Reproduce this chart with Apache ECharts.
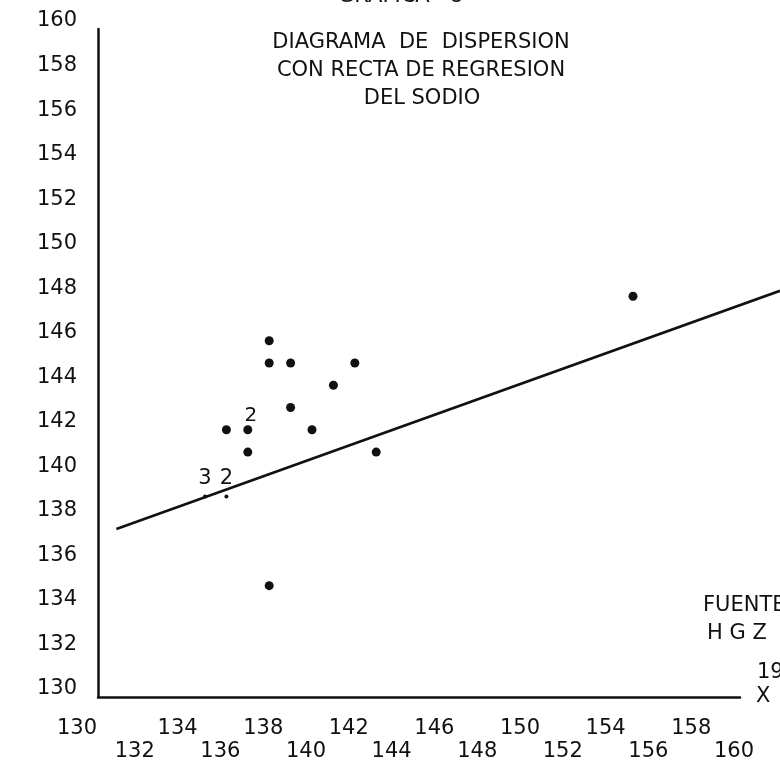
<!DOCTYPE html>
<html>
<head>
<meta charset="utf-8">
<script src="https://cdn.jsdelivr.net/npm/echarts@6/dist/echarts.min.js"></script>
<style>
  html, body { margin: 0; padding: 0; background: #fff; }
  #chart { width: 780px; height: 762px; }
</style>
</head>
<body>
<div id="chart"></div>
<script>
// ---- data ----
// plotted dots (value 2 = two coincident observations)
const dotX = [138, 138, 139, 142, 141, 139, 136, 137, 140, 137, 143, 138, 155];
const dotY = [146, 145, 145, 145, 144, 143, 142, 142, 142, 141, 141, 135, 148];
const dotN = [1, 1, 1, 1, 1, 1, 1, 2, 1, 1, 1, 1, 1];
// repeated points drawn as small marks on the regression line
const markX = [135, 136];
const markY = [139, 139];
const markN = [3, 2];
// regression line end points (runs past the end of the x axis to the page edge)
const regX = [130.86, 161.87];
const regY = [137.61, 148.28];
// axis ticks
const axisMin = 130;
const axisMax = 160;
const tickStep = 2;
// texts
const titleLines = ['DIAGRAMA  DE  DISPERSION', 'CON RECTA DE REGRESION', 'DEL SODIO'];
const topText = 'GRAFICA   8';
const sourceLines = ['FUENTE:', 'H G Z  -', '1983'];
const xName = 'X';

const FONT = '"DejaVu Sans", sans-serif';
const INK = '#111111';

const chart = echarts.init(document.getElementById('chart'), null, { renderer: 'canvas' });

const dotData = dotX.map((x, i) => [x, dotY[i], dotN[i]]);
const markData = markX.map((x, i) => [x, markY[i], markN[i]]);
const regData = regX.map((x, i) => [x, regY[i]]);

// main grid geometry; a second, wider grid with the same scale carries the regression line
const G = { left: 98, right: 40, top: 29, bottom: 63 };
const W = 780;
const pxPerUnit = (W - G.left - G.right) / (axisMax - axisMin);
const wideMax = axisMin + (W - G.left) / pxPerUnit;

const isUpperRow = v => (v - axisMin) % 4 === 0;

const labelBase = {
  interval: 0,
  hideOverlap: false,
  showMinLabel: true,
  showMaxLabel: true,
  fontFamily: FONT, fontSize: 21, color: INK,
  padding: [0, 12, 0, 0]
};

const option = {
  backgroundColor: '#ffffff',
  animation: false,
  grid: [
    { left: G.left, right: G.right, top: G.top, bottom: G.bottom },
    { left: G.left, right: 0, top: G.top, bottom: G.bottom }
  ],
  xAxis: [
    {
      // upper row of tick labels: 130, 134, ... 158
      type: 'value', gridIndex: 0, position: 'bottom',
      min: axisMin, max: axisMax, interval: tickStep,
      name: xName,
      nameLocation: 'end',
      nameGap: 16,
      nameTextStyle: { fontFamily: FONT, fontSize: 21, color: INK, verticalAlign: 'middle', align: 'left' },
      axisLine: { show: true, lineStyle: { color: INK, width: 2.5 } },
      axisTick: { show: false },
      splitLine: { show: false },
      axisLabel: Object.assign({}, labelBase, {
        margin: 21,
        formatter: v => (isUpperRow(v) ? (v === axisMin ? '{f|' + v + '}' : String(v)) : ''),
        rich: { f: { fontFamily: FONT, fontSize: 21, color: INK, padding: [0, 30, 0, 0] } }
      })
    },
    {
      // lower row of tick labels: 132, 136, ... 160
      type: 'value', gridIndex: 0, position: 'bottom', offset: 0,
      min: axisMin, max: axisMax, interval: tickStep,
      axisLine: { show: false },
      axisTick: { show: false },
      splitLine: { show: false },
      axisLabel: Object.assign({}, labelBase, {
        margin: 44,
        formatter: v => (isUpperRow(v) ? '' : String(v))
      })
    },
    {
      type: 'value', gridIndex: 1,
      min: axisMin, max: wideMax,
      show: false
    }
  ],
  yAxis: [
    {
      type: 'value', gridIndex: 0,
      min: axisMin, max: axisMax, interval: tickStep,
      axisLine: { show: true, lineStyle: { color: INK, width: 2.5 } },
      axisTick: { show: false },
      splitLine: { show: false },
      axisLabel: {
        interval: 0,
        hideOverlap: false,
        showMinLabel: true,
        showMaxLabel: true,
        margin: 21,
        formatter: v => '{n|' + v + '}\n{s|}',
        rich: {
          n: { fontFamily: FONT, fontSize: 21, color: INK, lineHeight: 24 },
          s: { lineHeight: 16, fontSize: 1 }
        }
      }
    },
    {
      type: 'value', gridIndex: 1,
      min: axisMin, max: axisMax,
      show: false
    }
  ],
  series: [
    {
      type: 'line',
      xAxisIndex: 2, yAxisIndex: 1,
      data: regData,
      symbol: 'none',
      lineStyle: { color: INK, width: 2.6 },
      z: 2
    },
    {
      type: 'scatter',
      xAxisIndex: 0, yAxisIndex: 0,
      data: dotData,
      symbol: 'circle',
      symbolSize: 9,
      itemStyle: { color: INK, opacity: 1 },
      label: {
        show: true,
        position: 'inside',
        offset: [3, -14],
        fontFamily: FONT, fontSize: 20, color: INK,
        formatter: p => (p.value[2] > 1 ? String(p.value[2]) : '')
      },
      z: 3
    },
    {
      type: 'scatter',
      xAxisIndex: 0, yAxisIndex: 0,
      data: markData,
      symbol: 'circle',
      symbolSize: 4,
      itemStyle: { color: INK, opacity: 1 },
      label: {
        show: true,
        position: 'inside',
        offset: [0, -18],
        fontFamily: FONT, fontSize: 21, color: INK,
        formatter: p => String(p.value[2])
      },
      z: 3
    }
  ],
  graphic: [
    { type: 'text', x: 338, y: -3, style: { text: topText, font: '21px ' + FONT, fill: INK, align: 'left', verticalAlign: 'middle' } },
    { type: 'text', x: 421, y: 43, style: { text: titleLines[0], font: '21px ' + FONT, fill: INK, align: 'center', verticalAlign: 'middle' } },
    { type: 'text', x: 421, y: 71, style: { text: titleLines[1], font: '21px ' + FONT, fill: INK, align: 'center', verticalAlign: 'middle' } },
    { type: 'text', x: 422, y: 99, style: { text: titleLines[2], font: '21px ' + FONT, fill: INK, align: 'center', verticalAlign: 'middle' } },
    { type: 'text', x: 703, y: 606, style: { text: sourceLines[0], font: '21px ' + FONT, fill: INK, align: 'left', verticalAlign: 'middle' } },
    { type: 'text', x: 707, y: 634, style: { text: sourceLines[1], font: '21px ' + FONT, fill: INK, align: 'left', verticalAlign: 'middle' } },
    { type: 'text', x: 757, y: 673, style: { text: sourceLines[2], font: '21px ' + FONT, fill: INK, align: 'left', verticalAlign: 'middle' } }
  ]
};

chart.setOption(option);
</script>
</body>
</html>
